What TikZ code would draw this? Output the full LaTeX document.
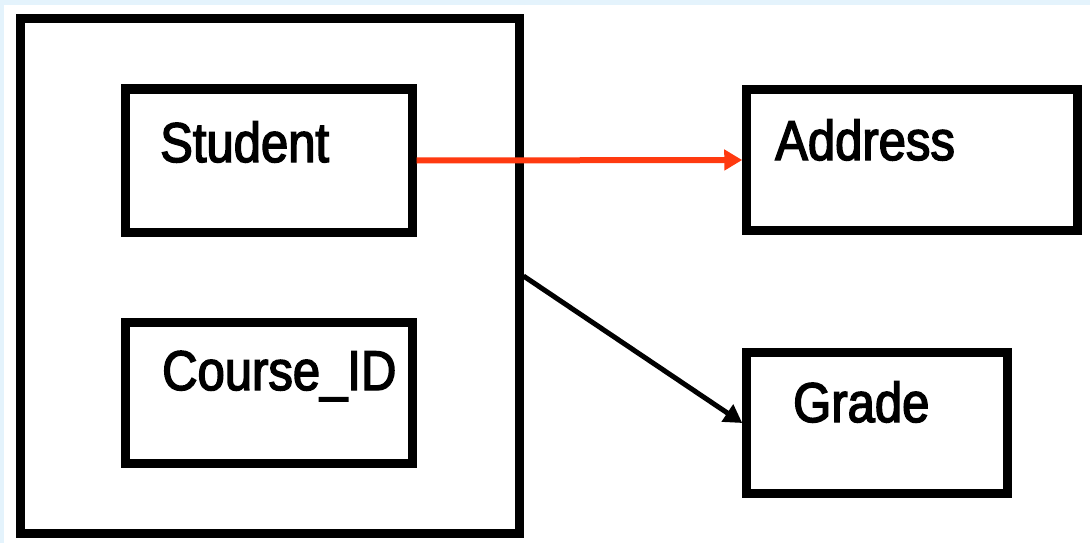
\documentclass[tikz,border=0pt]{standalone}
\usepackage{fontspec}
\setmainfont{Liberation Sans}[FakeStretch=0.875, FakeBold=2.6]
\usetikzlibrary{arrows.meta}
\definecolor{edgeblue}{HTML}{E4F3FC}
\definecolor{linkred}{HTML}{FF3A10}
\tikzset{
  box/.style={draw=black, line width=9pt, fill=white, inner sep=0pt},
  label/.style={anchor=base west, inner sep=0pt, font=\fontsize{56}{60}\selectfont},
  link/.style={line width=5pt, -{Triangle[length=18pt,width=20pt]}},
}
\begin{document}
\begin{tikzpicture}[x=1pt, y=-1pt]
  \path[use as bounding box, fill=white] (0,0) rectangle (1090,543);
  % pale blue edge bands along the top and the left
  \fill[edgeblue] (0,0) rectangle (1090,5);
  \fill[edgeblue] (0,0) rectangle (4,543);

  % composite key box and its two attributes
  \node[box, minimum width=499pt, minimum height=514pt] (outer) at (269.5,276) {};
  \node[box, minimum width=287pt, minimum height=143pt] (student) at (268.5,160.5) {};
  \node[box, minimum width=287pt, minimum height=141pt] (course) at (268.5,392.5) {};

  % dependent attributes
  \node[box, minimum width=330.5pt, minimum height=140.5pt] (address) at (912,160) {};
  \node[box, minimum width=260.5pt, minimum height=140.5pt] (grade) at (877,423) {};

  % texts
  \node[label] (tstudent) at (160,162) {Student};
  \node[label] (tcourse) at (162,390) {Course\_ID};
  \node[label] (taddress) at (775,160) {Address};
  \node[label] (tgrade) at (793,422) {Grade};

  % dependencies
  \draw[link, line width=6pt, draw=linkred, fill=linkred] (student.east) -- (address.west);
  \draw[link] (outer.east) -- (grade.west);
\end{tikzpicture}
\end{document}
